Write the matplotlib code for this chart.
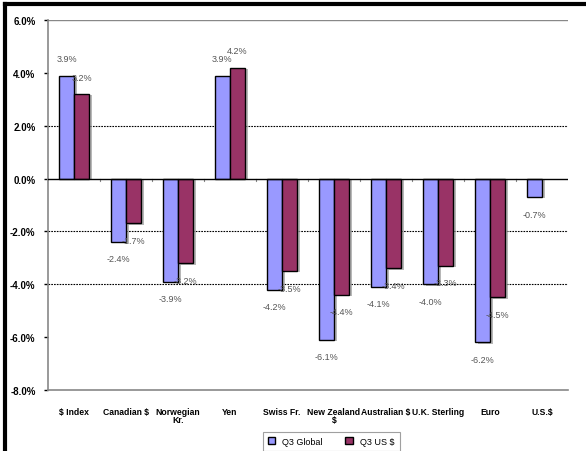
import matplotlib
matplotlib.use("Agg")
import matplotlib.pyplot as plt
import matplotlib.patheffects as pe
from matplotlib.lines import Line2D
import numpy as np

categories = ["$ Index", "Canadian $", "Norwegian\nKr.", "Yen", "Swiss Fr.",
              "New Zealand\n$", "Australian $", "U.K. Sterling", "Euro", "U.S.$"]
q3_global = [3.9, -2.4, -3.9, 3.9, -4.2, -6.1, -4.1, -4.0, -6.2, -0.7]
q3_us = [3.2, -1.7, -3.2, 4.2, -3.5, -4.4, -3.4, -3.3, -4.5, None]
series_names = ["Q3 Global", "Q3 US $"]
y_ticks = [6, 4, 2, 0, -2, -4, -6, -8]

plt.rcParams["font.family"] = ["Liberation Sans", "DejaVu Sans"]

fig = plt.figure(figsize=(5.86, 4.52), dpi=100)
ax = fig.add_axes([0.082, 0.135, 0.887, 0.8185])

x = np.arange(len(categories))
w = 0.29
shadow = [pe.SimplePatchShadow(offset=(2, -1), shadow_rgbFace="#999999", alpha=0.7), pe.Normal()]

for vals, off, color in [(q3_global, -w / 2, "#9999FF"), (q3_us, w / 2, "#993366")]:
    for xi, v in zip(x, vals):
        if v is None:
            continue
        b = ax.bar(xi + off, v, w, color=color, edgecolor="black", linewidth=1.0, zorder=3)
        b[0].set_path_effects(shadow)
        ax.annotate(f"{v:.1f}%", (xi + off, v), xytext=(0, 9 if v > 0 else -9),
                    textcoords="offset points", ha="center",
                    va="bottom" if v > 0 else "top", fontsize=6.5, color="#555555", zorder=4)

ax.set_xlim(-0.5, len(categories) - 0.5)
ax.set_ylim(-8, 6)
ax.set_yticks(y_ticks)
ax.set_yticklabels([f"{t:.1f}%" for t in y_ticks], fontsize=7, fontweight="bold")
ax.set_xticks(x)
ax.set_xticklabels(categories, fontsize=6.2, fontweight="bold", linespacing=0.9)
ax.tick_params(axis="x", length=0, pad=12)
ax.tick_params(axis="y", length=3, width=1, pad=6)

for g in [2, -2, -4]:
    ax.axhline(g, color="black", linestyle=(0, (1.5, 1)), linewidth=0.8, zorder=1)
ax.axhline(6, color="#888888", linewidth=1.0, zorder=1)
ax.axhline(0, color="black", linewidth=1.0, zorder=5)
for xb in np.arange(0.5, len(categories) - 0.5):
    ax.plot([xb, xb], [0, -0.1], color="#888888", linewidth=0.8, zorder=2)

for s in ["top", "right"]:
    ax.spines[s].set_visible(False)
ax.spines["left"].set_color("#888888")
ax.spines["bottom"].set_color("#888888")
ax.spines["left"].set_linewidth(1.2)
ax.spines["bottom"].set_linewidth(1.2)

handles = [plt.Rectangle((0, 0), 1, 1, facecolor=c, edgecolor="black") for c in ["#9999FF", "#993366"]]
leg = fig.legend(handles, series_names, loc="upper left", bbox_to_anchor=(258 / 586, 1 - 428 / 452),
                 ncol=2, fontsize=6.5, frameon=True, fancybox=False, handlelength=0.8,
                 handleheight=0.8, columnspacing=2.5, borderpad=0.6)
leg.get_frame().set_edgecolor("#888888")
leg.get_frame().set_linewidth(0.8)

fig.add_artist(Line2D([5 / 586, 1], [1 - 5 / 452, 1 - 5 / 452], transform=fig.transFigure,
                      color="black", linewidth=3))
fig.add_artist(Line2D([5 / 586, 5 / 586], [0, 1 - 5 / 452], transform=fig.transFigure,
                      color="black", linewidth=3))

fig.savefig("out.png", dpi=100)
